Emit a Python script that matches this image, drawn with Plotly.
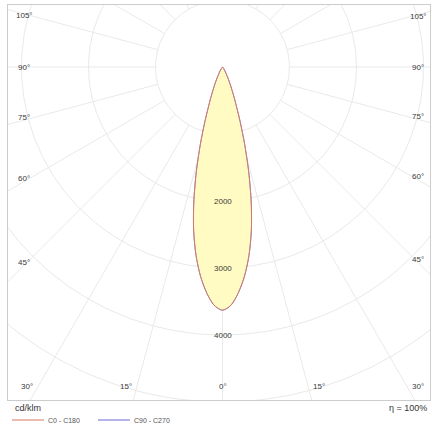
import numpy as np
import plotly.graph_objects as go

# ---- data (cd/klm) ----
gamma_deg = [0, 2, 4, 6, 8, 10, 12, 14, 16, 18, 21, 24, 27, 30, 35, 40, 45, 50, 60, 70, 80, 90]
I_c0_c180 = [3630, 3560, 3380, 3140, 2840, 2480, 2060, 1620, 1200, 840, 480, 280, 160, 90, 40, 15, 5, 0, 0, 0, 0, 0]
I_c90_c270 = [3630, 3560, 3380, 3140, 2840, 2480, 2060, 1620, 1200, 840, 480, 280, 160, 90, 40, 15, 5, 0, 0, 0, 0, 0]
grid_radii = [1000, 2000, 3000, 4000, 5000]
radius_labels = [2000, 3000, 4000]
side_angle_labels = [45, 60, 75, 90, 105]
bottom_angle_labels = [0, 15, 30]
unit_text = "cd/klm"
eta_text = "η = 100%"
series_names = ["C0 - C180", "C90 - C270"]
series_colors = ["#d8785e", "#6a6ad8"]

# ---- layout geometry (pixels) ----
W, H = 432, 427
left_px, right_px, top_px, bottom_px = 8, 430, 5, 400
ox_px, oy_px = 222.5, 67
px_per_cd = 67 / 1000.0

x0 = (left_px - ox_px) / px_per_cd
x1 = (right_px - ox_px) / px_per_cd
y1 = (oy_px - top_px) / px_per_cd
y0 = -(bottom_px - oy_px) / px_per_cd

grid_col = "#e9e9e9"
fig = go.Figure()

# circles
t = np.linspace(0, 2 * np.pi, 361)
for r in grid_radii:
    fig.add_trace(go.Scatter(x=r * np.sin(t), y=r * np.cos(t), mode="lines",
                             line=dict(color=grid_col, width=1), hoverinfo="skip", showlegend=False))
# radial lines
for a in range(0, 181, 15):
    for s in (1, -1):
        ar = np.radians(a)
        rr = np.array([grid_radii[0], 9000])
        fig.add_trace(go.Scatter(x=s * rr * np.sin(ar), y=-rr * np.cos(ar), mode="lines",
                                 line=dict(color=grid_col, width=1), hoverinfo="skip", showlegend=False))


def curve(I):
    g = np.radians(np.array(gamma_deg, dtype=float))
    I = np.array(I, dtype=float)
    gg = np.concatenate([-g[::-1], g[1:]])
    II = np.concatenate([I[::-1], I[1:]])
    return II * np.sin(gg), -II * np.cos(gg)


xb, yb = curve(I_c90_c270)
fig.add_trace(go.Scatter(x=xb, y=yb, mode="lines", fill="toself", fillcolor="#fffbc2",
                         line=dict(color=series_colors[1], width=0.8, shape="spline", smoothing=0.8),
                         name=series_names[1], hoverinfo="skip", showlegend=False))
xr, yr = curve(I_c0_c180)
fig.add_trace(go.Scatter(x=xr, y=yr, mode="lines",
                         line=dict(color=series_colors[0], width=0.9, shape="spline", smoothing=0.8),
                         name=series_names[0], hoverinfo="skip", showlegend=False))

lab_font = dict(family="Liberation Sans, Arial", size=8, color="#3a3a3a")
for r in radius_labels:
    fig.add_annotation(x=0, y=-r, text=str(r), showarrow=False, font=lab_font)

# angle labels on the sides
for a in side_angle_labels:
    ar = np.radians(a)
    for s in (1, -1):
        xe = (x1 - 12 / px_per_cd) if s == 1 else (x0 + 16 / px_per_cd)
        ye = -abs(xe) / np.tan(ar) if a != 90 else 0
        fig.add_annotation(x=xe, y=ye, text=f"{a}°", showarrow=False, font=lab_font,
                           yshift=3 if a not in (90, 105) else -2 if a == 105 else 0)
# bottom labels
yb_lab = y0 + 14 / px_per_cd
for a in bottom_angle_labels:
    ar = np.radians(a)
    for s in ((1, -1) if a else (1,)):
        xe = s * abs(yb_lab) * np.tan(ar)
        fig.add_annotation(x=xe, y=yb_lab, text=f"{a}°", showarrow=False, font=lab_font,
                           xshift=s * 11 if a else 0)

txt_font = dict(family="Liberation Sans, Arial", size=9, color="#333333")
fig.add_annotation(xref="paper", yref="paper", x=13 / W, y=1 - 408 / H, text=unit_text,
                   showarrow=False, xanchor="left", yanchor="middle", font=txt_font)
fig.add_annotation(xref="paper", yref="paper", x=429 / W, y=1 - 408 / H, text=eta_text,
                   showarrow=False, xanchor="right", yanchor="middle", font=txt_font)

# legend (manual)
leg_font = dict(family="Liberation Sans, Arial", size=7, color="#555555")
leg_y = 1 - 420 / H
for (lx0, lx1), name, col in zip([(12, 44), (98, 130)], series_names, series_colors):
    fig.add_shape(type="line", xref="paper", yref="paper", x0=lx0 / W, x1=lx1 / W,
                  y0=leg_y, y1=leg_y, line=dict(color=col, width=1))
    fig.add_annotation(xref="paper", yref="paper", x=(lx1 + 2) / W, y=leg_y, text=name,
                       showarrow=False, xanchor="left", yanchor="middle", font=leg_font)

fig.update_layout(
    width=W, height=H, margin=dict(l=0, r=0, t=0, b=0),
    paper_bgcolor="white", plot_bgcolor="white",
    showlegend=False,
    xaxis=dict(domain=[left_px / W, right_px / W], range=[x0, x1], fixedrange=True,
               showgrid=False, zeroline=False, showticklabels=False, ticks="",
               showline=True, mirror=True, linecolor="#cccccc", linewidth=1),
    yaxis=dict(domain=[1 - bottom_px / H, 1 - top_px / H], range=[y0, y1], fixedrange=True,
               showgrid=False, zeroline=False, showticklabels=False, ticks="",
               showline=True, mirror=True, linecolor="#cccccc", linewidth=1),
)

fig.write_html("out.html", config={"displayModeBar": False},
               post_script="document.body.style.margin='0';document.body.style.overflow='hidden';")
